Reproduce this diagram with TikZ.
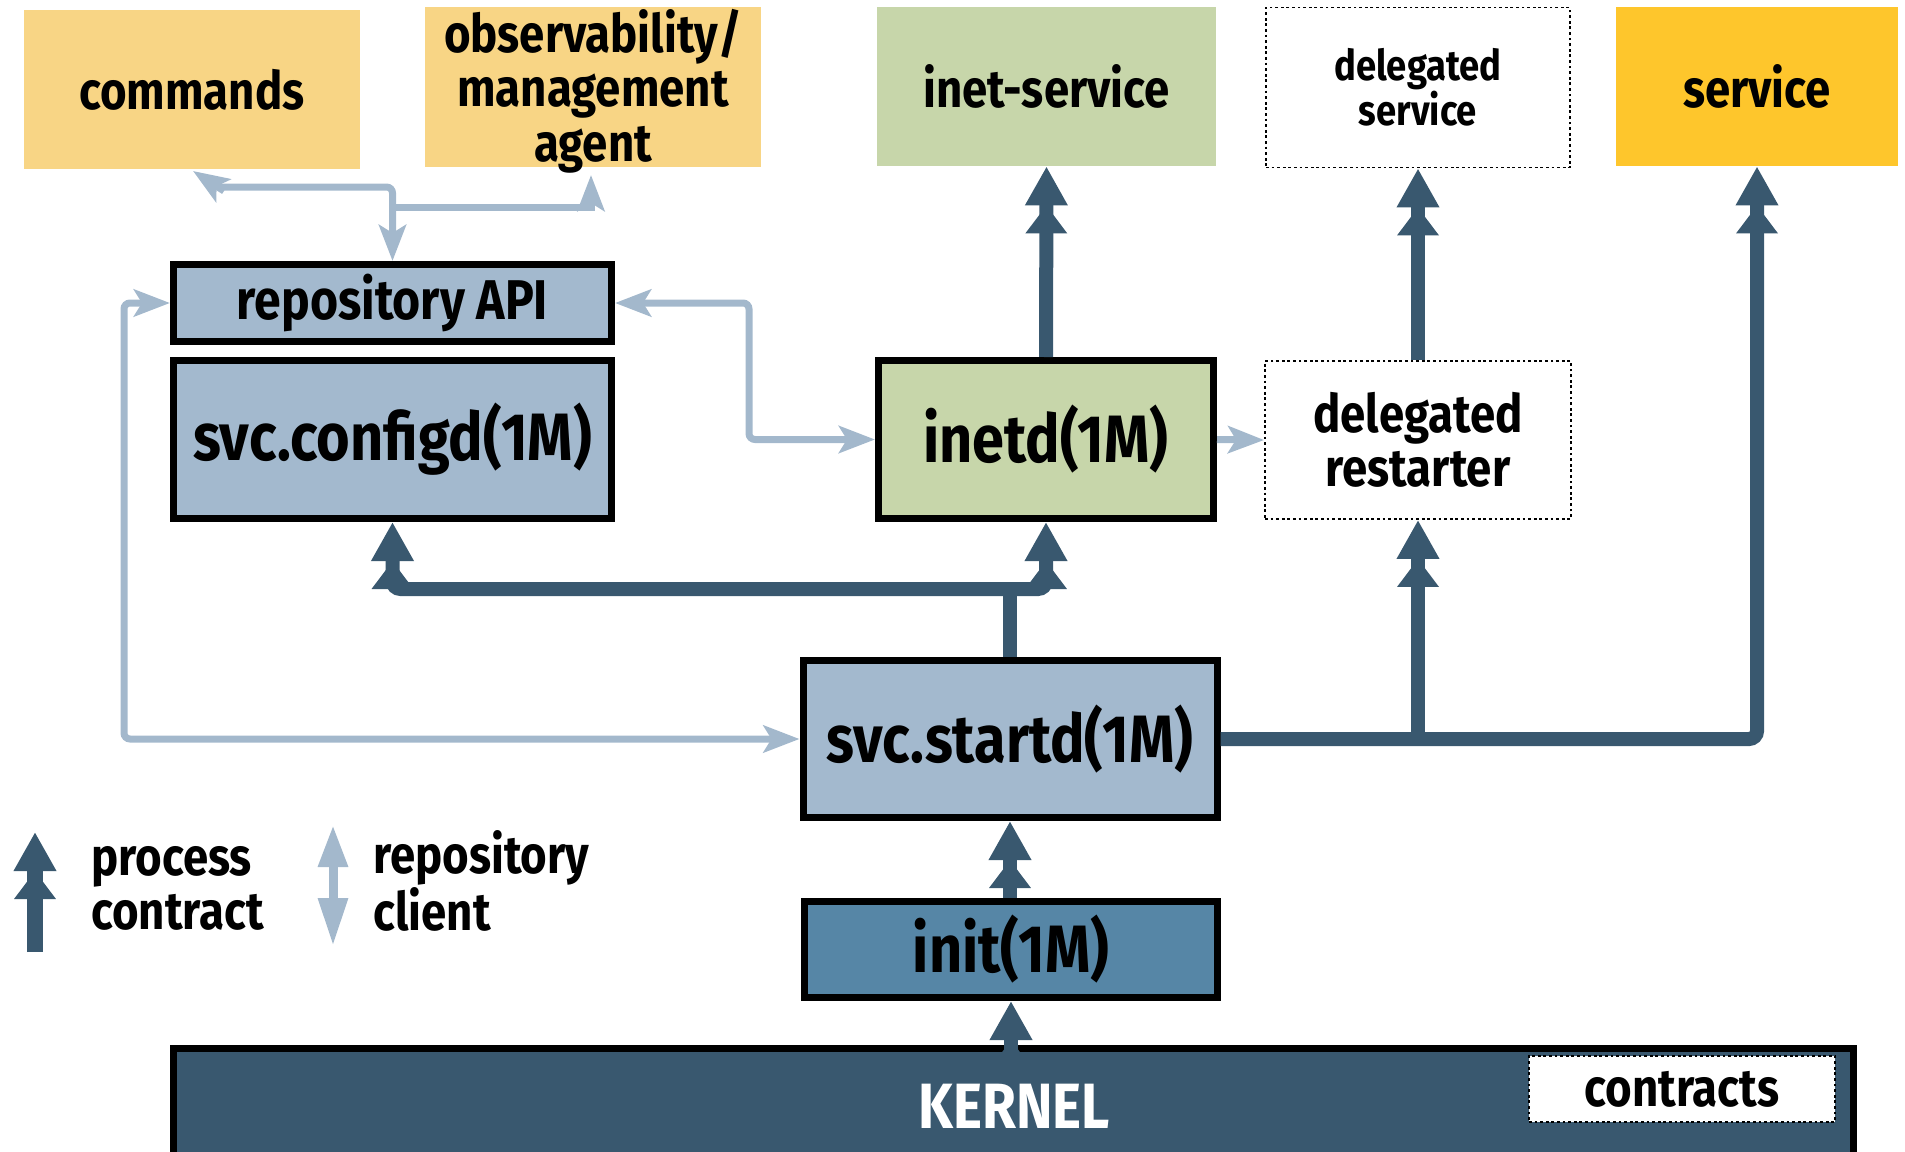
\documentclass[tikz,border=0pt]{standalone}
\usepackage{fontspec}
\setmainfont{Fira Sans}[FakeStretch=0.86]
\usetikzlibrary{arrows.meta,calc}
\definecolor{orng}{HTML}{F8D585}
\definecolor{grn}{HTML}{C7D6AA}
\definecolor{ylw}{HTML}{FEC62C}
\definecolor{lblue}{HTML}{A3B9CE}
\definecolor{mblue}{HTML}{5686A6}
\definecolor{dblue}{HTML}{39586F}
\definecolor{larrow}{HTML}{A3B8CC}
\newcommand\fNorm{\fontsize{26.5}{27}\selectfont\bfseries}
\newcommand\fRepo{\fontsize{28}{28}\selectfont\bfseries}
\newcommand\fBig{\fontsize{33.5}{34}\selectfont\bfseries}
\newcommand\fKern{\fontsize{32}{32}\selectfont\bfseries}
\newcommand\fSmall{\fontsize{21.2}{22.5}\selectfont\bfseries}
\begin{document}
\begin{tikzpicture}[x=0.5pt,y=-0.5pt,
  flat/.style={inner sep=0pt,align=center,font=\fNorm},
  box/.style={draw=black,line width=3.5pt,inner sep=0pt,align=center,font=\fNorm},
  dotbox/.style={draw=black,line width=0.9pt,dash pattern=on 1.4pt off 1.4pt,fill=white,inner sep=0pt,align=center,font=\fNorm},
  proc/.style={draw=dblue,line width=7pt,-{Triangle[length=14pt,width=20pt,sep=0pt]Triangle[length=19.5pt,width=20pt,sep=0pt]}},
  procline/.style={draw=dblue,line width=7pt},
  repo/.style={draw=larrow,line width=3.5pt},
  rtip/.tip={Stealth[length=18pt,width=13.5pt,inset=4pt]},
]
\useasboundingbox (0,0) rectangle (1905,1151);
\clip (0,0) rectangle (1905,1151);

% top row
\node[flat,fill=orng,minimum width=168pt,minimum height=79.5pt] (cmds) at (192,89.5) {commands};
\node[flat,fill=orng,minimum width=168pt,minimum height=80pt] (obs) at (593,87) {};
\node[flat,font=\fontsize{26.5}{27.3}\selectfont\bfseries] (obstext) at (593,91) {observability/\\management\\agent};
\node[flat,fill=grn,minimum width=169.5pt,minimum height=79.5pt] (inetsvc) at (1046.5,86.5) {inet-service};
\node[dotbox,minimum width=152pt,minimum height=80pt,font=\fSmall] (dsvc) at (1418,87.5) {delegated\\service};
\node[flat,fill=ylw,minimum width=141pt,minimum height=79.5pt] (svc) at (1757,86.5) {service};

% middle
\node[box,fill=lblue,minimum width=219pt,minimum height=38.5pt,font=\fRepo] (repo) at (392.5,303) {repository API};
\node[box,fill=lblue,minimum width=219pt,minimum height=79pt,font=\fBig] (configd) at (392.5,439.5) {svc.configd(1M)};
\node[box,fill=grn,minimum width=167.5pt,minimum height=79pt,font=\fBig] (inetd) at (1046,439.5) {inetd(1M)};
\node[dotbox,minimum width=153pt,minimum height=79pt] (restarter) at (1418,440) {delegated\\restarter};
\node[box,fill=lblue,minimum width=207pt,minimum height=78.5pt,font=\fBig] (startd) at (1010,739) {svc.startd(1M)};
\node[box,fill=mblue,minimum width=206.5pt,minimum height=48pt,font=\fBig] (init) at (1011,949.5) {init(1M)};

% kernel
\node[box,fill=dblue,minimum width=840pt,minimum height=76pt] (kernel) at (1013.5,1124) {};
\node[font=\fKern,text=white,inner sep=0pt] (ktext) at (1014,1106) {KERNEL};
\node[dotbox,minimum width=153pt,minimum height=33pt] (contracts) at (1682,1089) {contracts};

% process contract connectors
\coordinate (k1) at (1011,1072);
\draw[proc] (k1) -- (init.south -| k1);
\draw[proc] (init.north -| startd.south) -- (startd.south);
\coordinate (j) at (1010,589);
\draw[procline] (startd.north -| j) -- (j);
\draw[proc,rounded corners=4pt] (j) -| (configd.south);
\draw[proc,rounded corners=4pt] (j) -| (inetd.south);
\draw[proc] (inetd.north) -- (inetsvc.south);
\draw[proc] (restarter.north) -- (dsvc.south);
\draw[proc,rounded corners=4pt] (startd.east) -| (svc.south);
\draw[proc] (startd.east -| restarter.south) -- (restarter.south);

% repository client connectors
\draw[repo,{rtip}-{rtip},rounded corners=3pt] (repo.east) -- ++(134,0) |- (inetd.west);
\draw[repo,-{rtip}] (inetd.east) -- (restarter.west);
\draw[repo,{rtip}-{rtip},rounded corners=3pt] (repo.west) -- ++(-46,0) |- (startd.west);
\coordinate (cend) at (220,187);
\coordinate (cback) at (224,191);
\coordinate (ctip) at (193,171);
\draw[repo,-{rtip},rounded corners=3pt] (cend) -- (cend -| repo.north) -- (repo.north);
\draw[repo,-{rtip}] (cback) -- (ctip);
\coordinate (ob) at (591,207);
\coordinate (obt) at (591,175);
\draw[repo,-{rtip}] (ob -| repo.north) -- (ob) -- (obt);

% legend
\coordinate (lp1) at (35,952);
\coordinate (lp2) at (35,832);
\draw[draw=dblue,line width=8pt,-{Triangle[length=14pt,width=20pt,sep=0pt]Triangle[length=19.5pt,width=20pt,sep=0pt]}] (lp1) -- (lp2);
\node[flat,align=left,anchor=west] (lproc) at (91,888) {process\\contract};
\coordinate (lr1) at (333,825);
\coordinate (lr2) at (333,946);
\draw[repo,line width=4.5pt,{Triangle[length=21pt,width=14pt]}-{Triangle[length=24pt,width=14pt]}] (lr1) -- (lr2);
\node[flat,align=left,anchor=west] (lrepo) at (373,881) {repository\\client};
\end{tikzpicture}
\end{document}
